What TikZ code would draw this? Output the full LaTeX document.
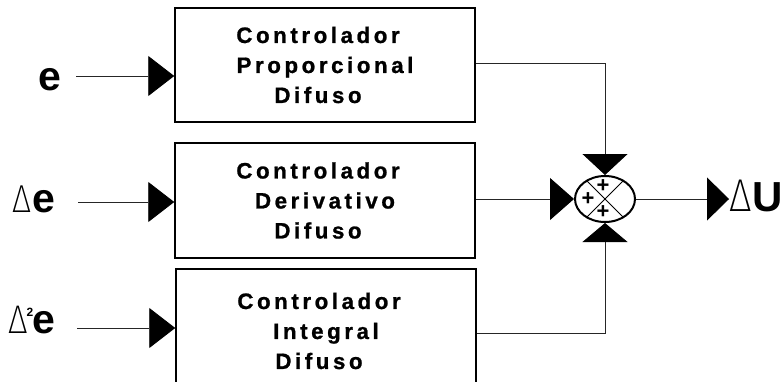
\documentclass[tikz,border=0pt]{standalone}
\usepackage{fontspec}
\setmainfont{Liberation Sans}
\IfFontExistsTF{Fira Sans ExtraLight}
  {\newfontfamily\deltafont{Fira Sans ExtraLight}}
  {\IfFontExistsTF{DejaVu Sans ExtraLight}
    {\newfontfamily\deltafont{DejaVu Sans ExtraLight}}
    {\IfFontExistsTF{Fira Sans Light}
      {\newfontfamily\deltafont{Fira Sans Light}}
      {\newfontfamily\deltafont{Liberation Sans}}}}
\usetikzlibrary{arrows.meta,shapes.geometric}
\newcommand{\dlt}[1]{\scalebox{0.85}[1]{\deltafont\fontsize{#1}{#1}\selectfont Δ}}
\newcommand{\bx}{\hspace*{14pt}}
\begin{document}
\begin{tikzpicture}[x=1pt,y=-1pt,
  blk/.style={draw, line width=1.5pt, minimum width=300pt, minimum height=114pt,
    align=center, inner sep=0pt,
    font=\bfseries\fontsize{22.3}{30}\selectfont\addfontfeatures{LetterSpace=16,FakeBold=1}},
  wire/.style={line width=0.9pt, draw=black!85},
  intip/.style={-{Triangle[length=26pt,width=40pt,color=black]}},
  lbl/.style={inner sep=0pt, anchor=base west},
  plus/.style={inner sep=0pt, font=\bfseries\fontsize{22}{22}\selectfont}]
\useasboundingbox (0,0) rectangle (783,381);
\clip (0,0) rectangle (783,381);

% blocks
\node[blk] (b1) at (325,65) {Controlador\bx\\Proporcional\bx\\Difuso\bx};
\node[blk, minimum height=115pt] (b2) at (325,200.5) {Controlador\bx\\Derivativo\bx\\Difuso\bx};
\node[blk, minimum height=124pt] (b3) at (326,331) {Controlador\bx\\Integral\bx\\Difuso\bx};

% input labels
\node[lbl, font=\bfseries\fontsize{41}{41}\selectfont] (e1) at (38,90) {e};
\node[lbl] (e2) at (12,212) {\dlt{39}\kern1pt{\bfseries\fontsize{41}{41}\selectfont e}};
\node[lbl] (e3) at (8,333) {\dlt{40}\kern-1pt\raisebox{17pt}{\bfseries\fontsize{12}{12}\selectfont 2}\kern-1pt{\bfseries\fontsize{41}{41}\selectfont e}};

\coordinate (i1) at (76,76);
\coordinate (i2) at (78,202);
\coordinate (i3) at (77,328);
\draw[wire, intip] (i1) -- (i1 -| b1.west);
\draw[wire, intip] (i2) -- (i2 -| b2.west);
\draw[wire, intip] (i3) -- (i3 -| b3.west);

% summing junction
\node[draw, ellipse, line width=2pt, minimum width=60pt, minimum height=46pt, inner sep=0pt] (s) at (605,199) {};
\draw[line width=0.8pt] (s.45) -- (s.225);
\draw[line width=0.8pt] (s.135) -- (s.315);
\node[plus] (p1) at (603,186) {+};
\node[plus] (p2) at (588,199) {+};
\node[plus] (p3) at (603,212) {+};

\draw[wire, -{Triangle[length=21pt,width=45pt,color=black]}] ([yshift=2pt]b1.east) -| (s.north);
\draw[wire, -{Triangle[length=24pt,width=42pt,color=black]}] (b2.east |- s.west) -- (s.west);
\draw[wire, -{Triangle[length=19pt,width=45pt,color=black]}] ([yshift=-2pt]b3.east) -| (s.south);

% output
\node[lbl] (du) at (729,211) {\dlt{46}\kern1pt{\bfseries\fontsize{42}{42}\selectfont U}};
\draw[wire, -{Triangle[length=22pt,width=43pt,color=black]}] (s.east) -- (du.west |- s.east);
\end{tikzpicture}
\end{document}
